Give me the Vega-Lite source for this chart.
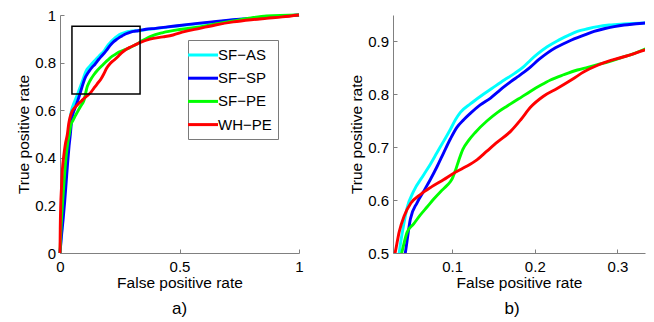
{
  "$schema": "https://vega.github.io/schema/vega-lite/v6.json",
  "background": "white",
  "padding": {"left": 16, "top": 8, "right": 9, "bottom": 4},
  "bounds": "flush",
  "spacing": 94,
  "resolve": {"legend": {"color": "independent"}, "scale": {"x": "independent", "y": "independent"}},
  "config": {
    "font": "Liberation Sans",
    "view": {"stroke": null},
    "axis": {
      "domainColor": "#808080", "domainWidth": 1,
      "tickColor": "#808080", "tickSize": -4, "tickWidth": 1,
      "labelFontSize": 15, "labelColor": "#000", "labelFont": "Liberation Sans",
      "titleFontSize": 15.5, "titleColor": "#000", "titleFontWeight": "normal", "titleFont": "Liberation Sans",
      "grid": false, "labelFlush": false, "labelOverlap": false
    },
    "axisX": {"labelPadding": 10, "titlePadding": 1},
    "axisY": {"labelPadding": 8.5, "titlePadding": 3}
  },
  "datasets": {
    "roc": [
      {"method": "SF−AS", "fpr": 0, "tpr": 0},
      {"method": "SF−AS", "fpr": 0.005, "tpr": 0.07},
      {"method": "SF−AS", "fpr": 0.01, "tpr": 0.13},
      {"method": "SF−AS", "fpr": 0.02, "tpr": 0.27},
      {"method": "SF−AS", "fpr": 0.028, "tpr": 0.38},
      {"method": "SF−AS", "fpr": 0.032, "tpr": 0.44},
      {"method": "SF−AS", "fpr": 0.036, "tpr": 0.5},
      {"method": "SF−AS", "fpr": 0.041, "tpr": 0.55},
      {"method": "SF−AS", "fpr": 0.0455, "tpr": 0.585},
      {"method": "SF−AS", "fpr": 0.0535, "tpr": 0.617},
      {"method": "SF−AS", "fpr": 0.0657, "tpr": 0.648},
      {"method": "SF−AS", "fpr": 0.0737, "tpr": 0.668},
      {"method": "SF−AS", "fpr": 0.0818, "tpr": 0.69},
      {"method": "SF−AS", "fpr": 0.09, "tpr": 0.712},
      {"method": "SF−AS", "fpr": 0.098, "tpr": 0.734},
      {"method": "SF−AS", "fpr": 0.104, "tpr": 0.752},
      {"method": "SF−AS", "fpr": 0.11, "tpr": 0.766},
      {"method": "SF−AS", "fpr": 0.122, "tpr": 0.782},
      {"method": "SF−AS", "fpr": 0.134, "tpr": 0.796},
      {"method": "SF−AS", "fpr": 0.148, "tpr": 0.811},
      {"method": "SF−AS", "fpr": 0.163, "tpr": 0.827},
      {"method": "SF−AS", "fpr": 0.176, "tpr": 0.84},
      {"method": "SF−AS", "fpr": 0.187, "tpr": 0.853},
      {"method": "SF−AS", "fpr": 0.195, "tpr": 0.865},
      {"method": "SF−AS", "fpr": 0.203, "tpr": 0.876},
      {"method": "SF−AS", "fpr": 0.215, "tpr": 0.89},
      {"method": "SF−AS", "fpr": 0.227, "tpr": 0.901},
      {"method": "SF−AS", "fpr": 0.24, "tpr": 0.911},
      {"method": "SF−AS", "fpr": 0.2515, "tpr": 0.919},
      {"method": "SF−AS", "fpr": 0.264, "tpr": 0.924},
      {"method": "SF−AS", "fpr": 0.276, "tpr": 0.928},
      {"method": "SF−AS", "fpr": 0.29, "tpr": 0.931},
      {"method": "SF−AS", "fpr": 0.308, "tpr": 0.933},
      {"method": "SF−AS", "fpr": 0.334, "tpr": 0.935},
      {"method": "SF−AS", "fpr": 0.36, "tpr": 0.939},
      {"method": "SF−AS", "fpr": 0.4, "tpr": 0.943},
      {"method": "SF−AS", "fpr": 0.45, "tpr": 0.949},
      {"method": "SF−AS", "fpr": 0.5, "tpr": 0.955},
      {"method": "SF−AS", "fpr": 0.585, "tpr": 0.964},
      {"method": "SF−AS", "fpr": 0.654, "tpr": 0.971},
      {"method": "SF−AS", "fpr": 0.725, "tpr": 0.979},
      {"method": "SF−AS", "fpr": 0.8, "tpr": 0.985},
      {"method": "SF−AS", "fpr": 0.9, "tpr": 0.993},
      {"method": "SF−AS", "fpr": 1, "tpr": 1},

      {"method": "SF−SP", "fpr": 0, "tpr": 0},
      {"method": "SF−SP", "fpr": 0.006, "tpr": 0.07},
      {"method": "SF−SP", "fpr": 0.013, "tpr": 0.14},
      {"method": "SF−SP", "fpr": 0.02, "tpr": 0.22},
      {"method": "SF−SP", "fpr": 0.026, "tpr": 0.3},
      {"method": "SF−SP", "fpr": 0.032, "tpr": 0.38},
      {"method": "SF−SP", "fpr": 0.038, "tpr": 0.45},
      {"method": "SF−SP", "fpr": 0.0434, "tpr": 0.5},
      {"method": "SF−SP", "fpr": 0.0495, "tpr": 0.564},
      {"method": "SF−SP", "fpr": 0.0576, "tpr": 0.595},
      {"method": "SF−SP", "fpr": 0.0657, "tpr": 0.617},
      {"method": "SF−SP", "fpr": 0.0737, "tpr": 0.639},
      {"method": "SF−SP", "fpr": 0.082, "tpr": 0.664},
      {"method": "SF−SP", "fpr": 0.0899, "tpr": 0.69},
      {"method": "SF−SP", "fpr": 0.098, "tpr": 0.716},
      {"method": "SF−SP", "fpr": 0.106, "tpr": 0.738},
      {"method": "SF−SP", "fpr": 0.114, "tpr": 0.752},
      {"method": "SF−SP", "fpr": 0.122, "tpr": 0.764},
      {"method": "SF−SP", "fpr": 0.134, "tpr": 0.78},
      {"method": "SF−SP", "fpr": 0.1465, "tpr": 0.793},
      {"method": "SF−SP", "fpr": 0.155, "tpr": 0.804},
      {"method": "SF−SP", "fpr": 0.1626, "tpr": 0.814},
      {"method": "SF−SP", "fpr": 0.171, "tpr": 0.824},
      {"method": "SF−SP", "fpr": 0.179, "tpr": 0.833},
      {"method": "SF−SP", "fpr": 0.187, "tpr": 0.842},
      {"method": "SF−SP", "fpr": 0.195, "tpr": 0.852},
      {"method": "SF−SP", "fpr": 0.205, "tpr": 0.866},
      {"method": "SF−SP", "fpr": 0.215, "tpr": 0.878},
      {"method": "SF−SP", "fpr": 0.225, "tpr": 0.888},
      {"method": "SF−SP", "fpr": 0.2354, "tpr": 0.896},
      {"method": "SF−SP", "fpr": 0.2475, "tpr": 0.905},
      {"method": "SF−SP", "fpr": 0.2596, "tpr": 0.912},
      {"method": "SF−SP", "fpr": 0.2717, "tpr": 0.919},
      {"method": "SF−SP", "fpr": 0.2838, "tpr": 0.924},
      {"method": "SF−SP", "fpr": 0.296, "tpr": 0.928},
      {"method": "SF−SP", "fpr": 0.308, "tpr": 0.931},
      {"method": "SF−SP", "fpr": 0.32, "tpr": 0.933},
      {"method": "SF−SP", "fpr": 0.334, "tpr": 0.935},
      {"method": "SF−SP", "fpr": 0.36, "tpr": 0.94},
      {"method": "SF−SP", "fpr": 0.4, "tpr": 0.944},
      {"method": "SF−SP", "fpr": 0.45, "tpr": 0.95},
      {"method": "SF−SP", "fpr": 0.5, "tpr": 0.956},
      {"method": "SF−SP", "fpr": 0.585, "tpr": 0.966},
      {"method": "SF−SP", "fpr": 0.654, "tpr": 0.973},
      {"method": "SF−SP", "fpr": 0.725, "tpr": 0.98},
      {"method": "SF−SP", "fpr": 0.8, "tpr": 0.986},
      {"method": "SF−SP", "fpr": 0.9, "tpr": 0.993},
      {"method": "SF−SP", "fpr": 1, "tpr": 1},

      {"method": "SF−PE", "fpr": 0, "tpr": 0},
      {"method": "SF−PE", "fpr": 0.004, "tpr": 0.1},
      {"method": "SF−PE", "fpr": 0.01, "tpr": 0.2},
      {"method": "SF−PE", "fpr": 0.017, "tpr": 0.3},
      {"method": "SF−PE", "fpr": 0.025, "tpr": 0.4},
      {"method": "SF−PE", "fpr": 0.032, "tpr": 0.46},
      {"method": "SF−PE", "fpr": 0.039, "tpr": 0.5},
      {"method": "SF−PE", "fpr": 0.0455, "tpr": 0.539},
      {"method": "SF−PE", "fpr": 0.0535, "tpr": 0.555},
      {"method": "SF−PE", "fpr": 0.0616, "tpr": 0.572},
      {"method": "SF−PE", "fpr": 0.0697, "tpr": 0.587},
      {"method": "SF−PE", "fpr": 0.0778, "tpr": 0.602},
      {"method": "SF−PE", "fpr": 0.086, "tpr": 0.616},
      {"method": "SF−PE", "fpr": 0.094, "tpr": 0.628},
      {"method": "SF−PE", "fpr": 0.1, "tpr": 0.64},
      {"method": "SF−PE", "fpr": 0.104, "tpr": 0.656},
      {"method": "SF−PE", "fpr": 0.108, "tpr": 0.675},
      {"method": "SF−PE", "fpr": 0.113, "tpr": 0.696},
      {"method": "SF−PE", "fpr": 0.12, "tpr": 0.713},
      {"method": "SF−PE", "fpr": 0.128, "tpr": 0.728},
      {"method": "SF−PE", "fpr": 0.1424, "tpr": 0.75},
      {"method": "SF−PE", "fpr": 0.155, "tpr": 0.766},
      {"method": "SF−PE", "fpr": 0.1667, "tpr": 0.778},
      {"method": "SF−PE", "fpr": 0.18, "tpr": 0.791},
      {"method": "SF−PE", "fpr": 0.195, "tpr": 0.806},
      {"method": "SF−PE", "fpr": 0.207, "tpr": 0.817},
      {"method": "SF−PE", "fpr": 0.219, "tpr": 0.827},
      {"method": "SF−PE", "fpr": 0.235, "tpr": 0.837},
      {"method": "SF−PE", "fpr": 0.2515, "tpr": 0.846},
      {"method": "SF−PE", "fpr": 0.264, "tpr": 0.851},
      {"method": "SF−PE", "fpr": 0.2758, "tpr": 0.856},
      {"method": "SF−PE", "fpr": 0.29, "tpr": 0.862},
      {"method": "SF−PE", "fpr": 0.304, "tpr": 0.869},
      {"method": "SF−PE", "fpr": 0.32, "tpr": 0.877},
      {"method": "SF−PE", "fpr": 0.334, "tpr": 0.886},
      {"method": "SF−PE", "fpr": 0.36, "tpr": 0.9},
      {"method": "SF−PE", "fpr": 0.38, "tpr": 0.91},
      {"method": "SF−PE", "fpr": 0.431, "tpr": 0.926},
      {"method": "SF−PE", "fpr": 0.5, "tpr": 0.939},
      {"method": "SF−PE", "fpr": 0.585, "tpr": 0.95},
      {"method": "SF−PE", "fpr": 0.65, "tpr": 0.962},
      {"method": "SF−PE", "fpr": 0.725, "tpr": 0.975},
      {"method": "SF−PE", "fpr": 0.8, "tpr": 0.988},
      {"method": "SF−PE", "fpr": 0.864, "tpr": 0.996},
      {"method": "SF−PE", "fpr": 1, "tpr": 1},

      {"method": "WH−PE", "fpr": 0, "tpr": 0},
      {"method": "WH−PE", "fpr": 0.001, "tpr": 0.1},
      {"method": "WH−PE", "fpr": 0.003, "tpr": 0.2},
      {"method": "WH−PE", "fpr": 0.006, "tpr": 0.27},
      {"method": "WH−PE", "fpr": 0.01, "tpr": 0.35},
      {"method": "WH−PE", "fpr": 0.016, "tpr": 0.41},
      {"method": "WH−PE", "fpr": 0.022, "tpr": 0.455},
      {"method": "WH−PE", "fpr": 0.031, "tpr": 0.5},
      {"method": "WH−PE", "fpr": 0.036, "tpr": 0.54},
      {"method": "WH−PE", "fpr": 0.042, "tpr": 0.57},
      {"method": "WH−PE", "fpr": 0.05, "tpr": 0.594},
      {"method": "WH−PE", "fpr": 0.062, "tpr": 0.611},
      {"method": "WH−PE", "fpr": 0.075, "tpr": 0.625},
      {"method": "WH−PE", "fpr": 0.09, "tpr": 0.639},
      {"method": "WH−PE", "fpr": 0.1, "tpr": 0.649},
      {"method": "WH−PE", "fpr": 0.114, "tpr": 0.661},
      {"method": "WH−PE", "fpr": 0.13, "tpr": 0.676},
      {"method": "WH−PE", "fpr": 0.1424, "tpr": 0.693},
      {"method": "WH−PE", "fpr": 0.155, "tpr": 0.71},
      {"method": "WH−PE", "fpr": 0.1707, "tpr": 0.73},
      {"method": "WH−PE", "fpr": 0.183, "tpr": 0.752},
      {"method": "WH−PE", "fpr": 0.195, "tpr": 0.776},
      {"method": "WH−PE", "fpr": 0.21, "tpr": 0.796},
      {"method": "WH−PE", "fpr": 0.227, "tpr": 0.811},
      {"method": "WH−PE", "fpr": 0.245, "tpr": 0.828},
      {"method": "WH−PE", "fpr": 0.26, "tpr": 0.843},
      {"method": "WH−PE", "fpr": 0.276, "tpr": 0.855},
      {"method": "WH−PE", "fpr": 0.292, "tpr": 0.864},
      {"method": "WH−PE", "fpr": 0.31, "tpr": 0.872},
      {"method": "WH−PE", "fpr": 0.334, "tpr": 0.884},
      {"method": "WH−PE", "fpr": 0.376, "tpr": 0.899},
      {"method": "WH−PE", "fpr": 0.431, "tpr": 0.908},
      {"method": "WH−PE", "fpr": 0.473, "tpr": 0.916},
      {"method": "WH−PE", "fpr": 0.52, "tpr": 0.93},
      {"method": "WH−PE", "fpr": 0.585, "tpr": 0.944},
      {"method": "WH−PE", "fpr": 0.65, "tpr": 0.958},
      {"method": "WH−PE", "fpr": 0.725, "tpr": 0.971},
      {"method": "WH−PE", "fpr": 0.8, "tpr": 0.98},
      {"method": "WH−PE", "fpr": 0.864, "tpr": 0.986},
      {"method": "WH−PE", "fpr": 0.93, "tpr": 0.992},
      {"method": "WH−PE", "fpr": 1, "tpr": 1}
    ],
    "box": [
      {"x1": 0.05, "x2": 0.335, "y1": 0.668, "y2": 0.953}
    ]
  },
  "hconcat": [
    {
      "width": 239,
      "height": 238,
      "title": {"text": "a)", "orient": "bottom", "fontSize": 17, "fontWeight": "normal", "font": "Liberation Sans", "offset": 10},
      "layer": [
        {
          "data": {"name": "roc"},
          "mark": {"type": "line", "strokeWidth": 2.9, "interpolate": "monotone"},
          "encoding": {
            "x": {"field": "fpr", "type": "quantitative", "scale": {"domain": [0, 1], "nice": false, "zero": false},
                  "axis": {"values": [0, 0.5, 1], "format": "~g", "title": "False positive rate"}},
            "y": {"field": "tpr", "type": "quantitative", "scale": {"domain": [0, 1], "nice": false, "zero": false},
                  "axis": {"values": [0, 0.2, 0.4, 0.6, 0.8, 1], "format": "~g", "title": "True positive rate"}},
            "color": {"field": "method", "type": "nominal",
                      "scale": {"domain": ["SF−AS", "SF−SP", "SF−PE", "WH−PE"], "range": ["#00ffff", "#0000ff", "#00ff00", "#ff0000"]},
                      "legend": {"orient": "none", "legendX": 128, "legendY": 25, "title": null,
                                 "symbolType": "M-2,0H2", "symbolSize": 225, "symbolStrokeWidth": 3,
                                 "labelFontSize": 15, "labelFont": "Liberation Sans", "labelColor": "#000", "labelOffset": 6,
                                 "rowPadding": 6.2, "padding": 6, "strokeColor": "#7a7a7a", "fillColor": "white"}}
          }
        },
        {
          "data": {"name": "box"},
          "mark": {"type": "rect", "fill": "transparent", "stroke": "#000", "strokeWidth": 1.5},
          "encoding": {
            "x": {"field": "x1", "type": "quantitative"},
            "x2": {"field": "x2"},
            "y": {"field": "y1", "type": "quantitative"},
            "y2": {"field": "y2"}
          }
        }
      ]
    },
    {
      "width": 252,
      "height": 238,
      "title": {"text": "b)", "orient": "bottom", "fontSize": 17, "fontWeight": "normal", "font": "Liberation Sans", "offset": 10, "dx": -7},
      "data": {"name": "roc"},
      "mark": {"type": "line", "strokeWidth": 2.9, "interpolate": "monotone", "clip": true},
      "encoding": {
        "x": {"field": "fpr", "type": "quantitative", "scale": {"domain": [0.0285, 0.3333], "nice": false, "zero": false},
              "axis": {"values": [0.1, 0.2, 0.3], "format": "~g", "title": "False positive rate"}},
        "y": {"field": "tpr", "type": "quantitative", "scale": {"domain": [0.5, 0.95], "nice": false, "zero": false},
              "axis": {"values": [0.5, 0.6, 0.7, 0.8, 0.9], "format": "~g", "title": "True positive rate"}},
        "color": {"field": "method", "type": "nominal",
                  "scale": {"domain": ["SF−AS", "SF−SP", "SF−PE", "WH−PE"], "range": ["#00ffff", "#0000ff", "#00ff00", "#ff0000"]},
                  "legend": null}
      }
    }
  ]
}
